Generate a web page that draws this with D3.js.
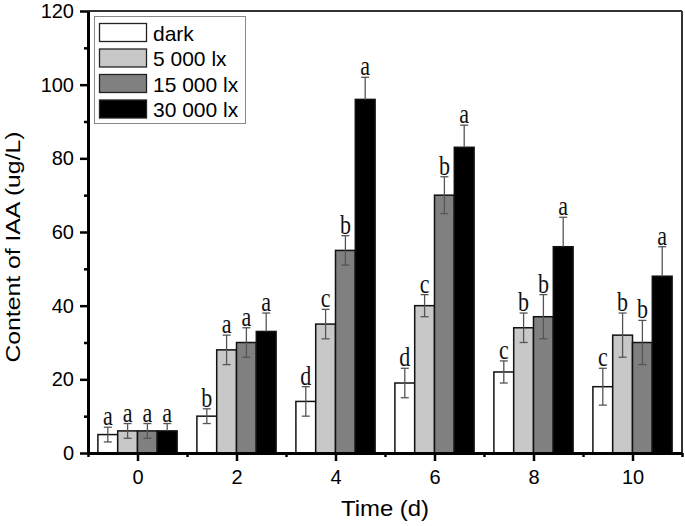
<!DOCTYPE html>
<html>
<head>
<meta charset="utf-8">
<script src="https://cdn.jsdelivr.net/npm/d3@7/dist/d3.min.js"></script>
<style>
  html, body { margin: 0; padding: 0; background: #fff; }
  svg { display: block; }
</style>
</head>
<body>
<svg id="chart" width="685" height="526"></svg>
<script>
// ---- data ----
const times = [0, 2, 4, 6, 8, 10];
const seriesNames = ["dark", "5 000 lx", "15 000 lx", "30 000 lx"];
const darkVals   = [5, 10, 14, 19, 22, 18];
const darkErr    = [2, 2, 4, 4, 3, 5];
const lx5000Vals = [6, 28, 35, 40, 34, 32];
const lx5000Err  = [2, 4, 4, 3, 4, 6];
const lx15000Vals = [6, 30, 55, 70, 37, 30];
const lx15000Err  = [2, 4, 4, 5, 6, 6];
const lx30000Vals = [6, 33, 96, 83, 56, 48];
const lx30000Err  = [2, 5, 6, 6, 8, 8];
const darkLetters    = ["a", "b", "d", "d", "c", "c"];
const lx5000Letters  = ["a", "a", "c", "c", "b", "b"];
const lx15000Letters = ["a", "a", "b", "b", "b", "b"];
const lx30000Letters = ["a", "a", "a", "a", "a", "a"];
const yTicks = [0, 20, 40, 60, 80, 100, 120];
const yMinorTicks = [10, 30, 50, 70, 90, 110];
const xMinorTicks = [-1, 1, 3, 5, 7, 9, 11];
const fills = ["#ffffff", "#c8c8c8", "#808080", "#000000"];

const series = [
  { name: seriesNames[0], vals: darkVals, err: darkErr, letters: darkLetters },
  { name: seriesNames[1], vals: lx5000Vals, err: lx5000Err, letters: lx5000Letters },
  { name: seriesNames[2], vals: lx15000Vals, err: lx15000Err, letters: lx15000Letters },
  { name: seriesNames[3], vals: lx30000Vals, err: lx30000Err, letters: lx30000Letters }
];

// ---- layout ----
const svg = d3.select("#chart");
const L = 88, R = 682, T = 11, B = 453;
const x = d3.scaleLinear().domain([-1, 11]).range([L, R]);
const y = d3.scaleLinear().domain([0, 120]).range([B, T]);
const barW = 0.4; // in x units

// frame top / right
svg.append("line").attr("x1", L).attr("x2", R).attr("y1", T).attr("y2", T)
  .attr("stroke", "#333").attr("stroke-width", 2);
svg.append("line").attr("x1", R).attr("x2", R).attr("y1", T).attr("y2", B)
  .attr("stroke", "#333").attr("stroke-width", 2);

// bars
const g = svg.append("g");
series.forEach((s, i) => {
  const off = (i - 2) * barW;
  const grp = g.append("g");
  grp.selectAll("rect").data(times).enter().append("rect")
    .attr("x", (t) => x(t + off))
    .attr("width", (t) => x(t + off + barW) - x(t + off))
    .attr("y", (t, j) => y(s.vals[j]))
    .attr("height", (t, j) => y(0) - y(s.vals[j]))
    .attr("fill", fills[i])
    .attr("stroke", "#111")
    .attr("stroke-width", 1.5);
});

// error bars + letters
series.forEach((s, i) => {
  const off = (i - 2) * barW + barW / 2;
  const eg = svg.append("g").attr("stroke", "#555").attr("stroke-width", 1.3);
  times.forEach((t, j) => {
    const cx = x(t + off);
    const top = y(s.vals[j] + s.err[j]);
    const bot = y(s.vals[j] - s.err[j]);
    const mid = y(s.vals[j]);
    eg.append("line").attr("x1", cx).attr("x2", cx).attr("y1", top).attr("y2", mid);
    eg.append("line").attr("x1", cx - 4).attr("x2", cx + 4).attr("y1", top).attr("y2", top);
    if (i !== 3) {
      eg.append("line").attr("x1", cx).attr("x2", cx).attr("y1", mid).attr("y2", bot);
      eg.append("line").attr("x1", cx - 4).attr("x2", cx + 4).attr("y1", bot).attr("y2", bot);
    }
    svg.append("text")
      .attr("transform", `translate(${cx},${top - 2}) scale(1,1.25)`)
      .attr("text-anchor", "middle")
      .attr("font-family", "'Liberation Serif', 'Times New Roman', serif")
      .attr("font-size", 22)
      .attr("fill", "#111")
      .text(s.letters[j]);
  });
});

// y axis
const yAxis = svg.append("g").attr("transform", `translate(${L},0)`)
  .call(d3.axisLeft(y).tickValues(yTicks).tickSize(8).tickSizeOuter(0).tickPadding(6));
yAxis.select(".domain").attr("stroke", "#000").attr("stroke-width", 3);
yAxis.selectAll(".tick line").attr("stroke", "#000").attr("stroke-width", 2.5);
yAxis.selectAll(".tick text").attr("font-family", "'Liberation Sans', Arial, sans-serif")
  .attr("font-size", 20).attr("fill", "#000");
const yMinor = svg.append("g").attr("transform", `translate(${L},0)`)
  .call(d3.axisLeft(y).tickValues(yMinorTicks).tickSize(4).tickFormat(""));
yMinor.select(".domain").remove();
yMinor.selectAll(".tick line").attr("stroke", "#000").attr("stroke-width", 2.5);

// x axis
const xAxis = svg.append("g").attr("transform", `translate(0,${B})`)
  .call(d3.axisBottom(x).tickValues(times).tickSize(8).tickSizeOuter(0).tickPadding(9).tickFormat(d3.format("d")));
xAxis.select(".domain").attr("stroke", "#000").attr("stroke-width", 3);
xAxis.selectAll(".tick line").attr("stroke", "#000").attr("stroke-width", 2.5);
xAxis.selectAll(".tick text").attr("font-family", "'Liberation Sans', Arial, sans-serif")
  .attr("font-size", 20).attr("fill", "#000");
const xMinor = svg.append("g").attr("transform", `translate(0,${B})`)
  .call(d3.axisBottom(x).tickValues(xMinorTicks).tickSize(4).tickFormat(""));
xMinor.select(".domain").remove();
xMinor.selectAll(".tick line").attr("stroke", "#000").attr("stroke-width", 2.5);

// axis titles
svg.append("text")
  .attr("x", 385).attr("y", 516)
  .attr("text-anchor", "middle")
  .attr("font-family", "'Liberation Sans', Arial, sans-serif")
  .attr("font-size", 22)
  .attr("textLength", 88).attr("lengthAdjust", "spacingAndGlyphs")
  .text("Time (d)");
svg.append("text")
  .attr("transform", "translate(20,247) rotate(-90)")
  .attr("text-anchor", "middle")
  .attr("font-family", "'Liberation Sans', Arial, sans-serif")
  .attr("font-size", 21)
  .attr("textLength", 231).attr("lengthAdjust", "spacingAndGlyphs")
  .text("Content of IAA (ug/L)");

// legend
const lg = svg.append("g");
lg.append("rect").attr("x", 94.5).attr("y", 16.5).attr("width", 151).attr("height", 107)
  .attr("fill", "#fff").attr("stroke", "#888").attr("stroke-width", 1);
seriesNames.forEach((n, i) => {
  const ry = 23.5 + i * 25.5;
  lg.append("rect").attr("x", 99.5).attr("y", ry).attr("width", 47).attr("height", 18)
    .attr("fill", fills[i]).attr("stroke", "#222").attr("stroke-width", 1.3);
  lg.append("text").attr("x", 153).attr("y", ry + 17)
    .attr("font-family", "'Liberation Sans', Arial, sans-serif")
    .attr("font-size", 21).attr("fill", "#000")
    .text(n);
});
</script>
</body>
</html>
